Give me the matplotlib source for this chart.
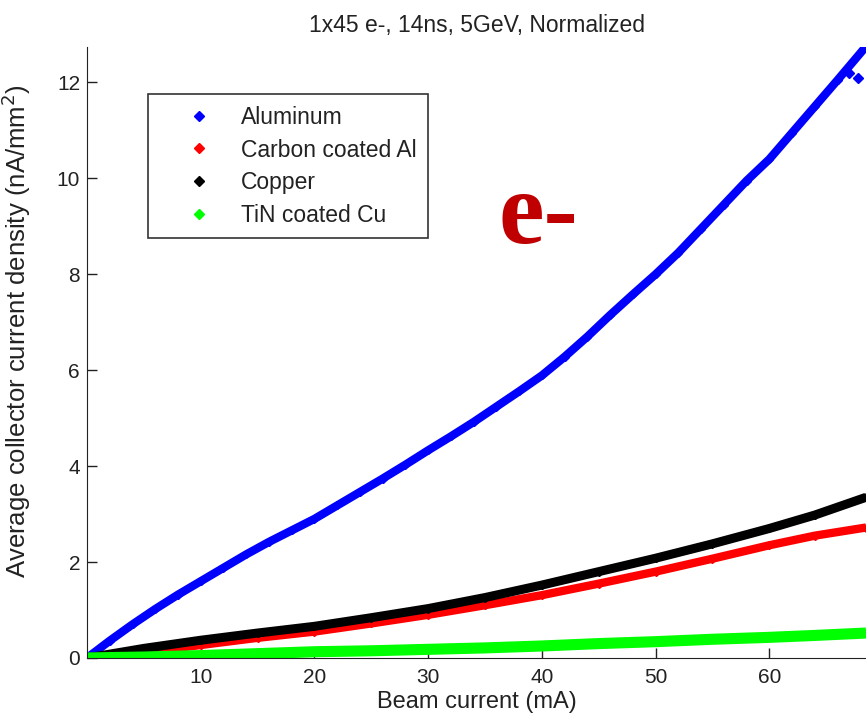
import matplotlib
matplotlib.use("Agg")
import matplotlib.pyplot as plt
from matplotlib.lines import Line2D

plt.rcParams['font.family'] = ['Liberation Sans', 'DejaVu Sans']

# beam current (mA) and normalized collector current density (nA/mm^2)
al_x = [0, 2, 4, 6, 8, 10, 12, 14, 16, 18, 20, 22, 24, 26, 28, 30, 32, 34, 36, 38, 40,
        42, 44, 46, 48, 50, 52, 54, 56, 58, 60, 62, 64, 66, 68.5]
al_y = [0, 0.36, 0.7, 1.02, 1.32, 1.6, 1.88, 2.16, 2.42, 2.66, 2.9, 3.18, 3.46, 3.74, 4.03,
        4.33, 4.62, 4.92, 5.24, 5.56, 5.89, 6.28, 6.7, 7.15, 7.58, 8.0, 8.45, 8.95, 9.45,
        9.95, 10.4, 10.95, 11.5, 12.05, 12.75]
al_out_x = [67.0, 67.8]
al_out_y = [12.2, 12.1]

c_x = [0, 5, 10, 15, 20, 25, 30, 35, 40, 45, 50, 55, 60, 64, 68.5]
c_y = [0, 0.12, 0.27, 0.42, 0.55, 0.72, 0.9, 1.1, 1.31, 1.55, 1.8, 2.07, 2.35, 2.55, 2.72]

cu_x = [0, 5, 10, 15, 20, 25, 30, 35, 40, 45, 50, 55, 60, 64, 68.5]
cu_y = [0, 0.2, 0.37, 0.52, 0.66, 0.84, 1.03, 1.26, 1.52, 1.8, 2.08, 2.38, 2.7, 2.98, 3.35]

tin_x = [0, 5, 10, 15, 20, 25, 30, 35, 40, 45, 50, 55, 60, 64, 68.5]
tin_y = [0, 0.02, 0.05, 0.09, 0.13, 0.15, 0.18, 0.21, 0.25, 0.3, 0.34, 0.39, 0.43, 0.47, 0.52]

labels = ['Aluminum', 'Carbon coated Al', 'Copper', 'TiN coated Cu']
colors = ['#0000ff', '#ff0000', '#000000', '#00ff00']
txt = '#222222'

fig = plt.figure(figsize=(8.66, 7.26), dpi=100)
ax = fig.add_axes([0.1005, 0.0937, 0.8995, 0.841])

series = [(al_x, al_y, 6), (c_x, c_y, 6), (cu_x, cu_y, 6.5), (tin_x, tin_y, 8)]
for (x, y, lw), col in zip(series, colors):
    ax.plot(x, y, '-', color=col, lw=lw, marker='D', ms=4, mec=col, mfc=col,
            solid_capstyle='butt')
ax.plot(al_out_x, al_out_y, ls='none', marker='D', ms=5, color=colors[0])

ax.set_xlim(0, 68.5)
ax.set_ylim(0, 12.73)
ax.set_xticks([10, 20, 30, 40, 50, 60])
ax.set_yticks([0, 2, 4, 6, 8, 10, 12])
ax.tick_params(direction='in', length=7, width=1, labelsize=15, colors=txt)
ax.tick_params(axis='x', pad=7)
ax.tick_params(axis='y', pad=5)
ax.spines['top'].set_visible(False)
ax.spines['right'].set_visible(False)
for s in ['left', 'bottom']:
    ax.spines[s].set_color(txt)

ax.set_title('1x45 e-, 14ns, 5GeV, Normalized', fontsize=16.5, color=txt, pad=11)
ax.set_xlabel('Beam current (mA)', fontsize=17, color=txt, labelpad=3)
ax.set_ylabel('Average collector current density (nA/mm$^2$)', fontsize=18.5, color=txt)
ax.yaxis.set_label_coords(-0.069, 0.535)

handles = [Line2D([], [], ls='none', marker='D', ms=5, color=c) for c in colors]
leg = ax.legend(handles, labels, loc='upper left', bbox_to_anchor=(0.078, 0.923),
                fontsize=16.5, frameon=True, fancybox=False, edgecolor='black',
                borderpad=0.5, labelspacing=0.42, handletextpad=0.05, handlelength=3.5,
                borderaxespad=0)
leg.get_frame().set_linewidth(1.2)
for t in leg.get_texts():
    t.set_color(txt)

fig.text(0.622, 0.70, 'e-', fontsize=74, fontweight='bold', family='Liberation Serif',
         color='#c00000', ha='center', va='center')

fig.savefig('out.png', dpi=100)
